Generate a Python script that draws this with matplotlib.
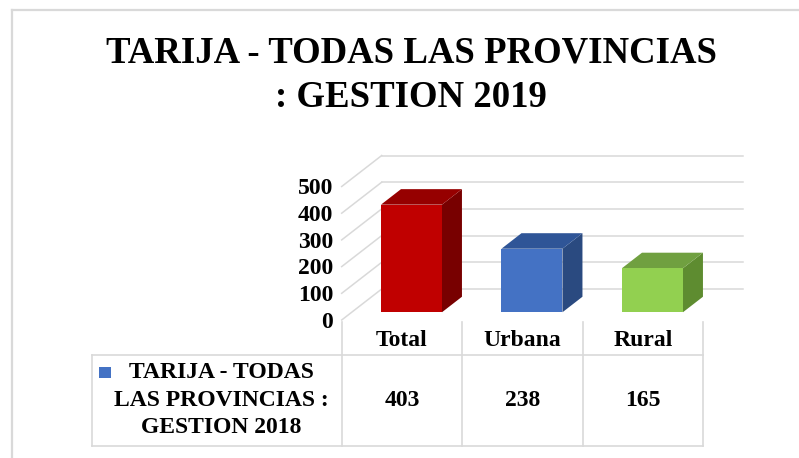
import matplotlib
matplotlib.use("Agg")
import matplotlib.pyplot as plt
from matplotlib.patches import Polygon, Rectangle

# data
categories = ["Total", "Urbana", "Rural"]
values = [403, 238, 165]
y_ticks = [0, 100, 200, 300, 400, 500]
series_label = "TARIJA - TODAS\nLAS PROVINCIAS :\nGESTION 2018"
title = "TARIJA - TODAS LAS PROVINCIAS\n: GESTION 2019"

front_colors = ["#C00000", "#4472C4", "#92D050"]
top_colors = ["#960000", "#2F5597", "#70A040"]
side_colors = ["#780000", "#2A4A80", "#5E8C30"]
grid_color = "#D9D9D9"

plt.rcParams["font.family"] = ["Liberation Serif", "DejaVu Serif"]
plt.rcParams["font.weight"] = "bold"

W, H = 799, 458
fig = plt.figure(figsize=(W / 100, H / 100), dpi=100)

# plot geometry (pixels)
origin_x, origin_y = 341.7, 320.0
col_w = 120.5
px_per_unit = 0.267
depth_px = (40.0, 31.0)

ax = fig.add_axes([0, 0, 1, 1])
ax.set_xlim(-origin_x / col_w, (W - origin_x) / col_w)
ax.set_ylim((origin_y - H) / px_per_unit, origin_y / px_per_unit)
ax.axis("off")

dx = depth_px[0] / col_w
dy = depth_px[1] / px_per_unit
n = len(categories)

# back wall gridlines and left wall diagonals
for v in y_ticks:
    ax.plot([dx, n + dx], [v + dy, v + dy], color=grid_color, lw=1.1, zorder=1)
    ax.plot([0, dx], [v, v + dy], color=grid_color, lw=1.1, zorder=1)
    ax.text(-0.07, v - 8, str(v), ha="right", va="center", fontsize=17,
            fontweight="bold")

# 3D bars
bar_w = 0.506
for i, v in enumerate(values):
    x0 = i + 0.243 + dx / 4
    y0 = dy / 4
    hx, hy = dx / 2, dy / 2
    side = [(x0 + bar_w, y0), (x0 + bar_w + hx, y0 + hy),
            (x0 + bar_w + hx, y0 + v + hy), (x0 + bar_w, y0 + v)]
    top = [(x0, y0 + v), (x0 + bar_w, y0 + v),
           (x0 + bar_w + hx, y0 + v + hy), (x0 + hx, y0 + v + hy)]
    ax.add_patch(Polygon(side, closed=True, fc=side_colors[i], ec="none", zorder=3))
    ax.add_patch(Polygon(top, closed=True, fc=top_colors[i], ec="none", zorder=3))
    ax.add_patch(Rectangle((x0, y0), bar_w, v, fc=front_colors[i], ec="none", zorder=4))

# overlay in pixel coordinates for frame, title and data table
ov = fig.add_axes([0, 0, 1, 1])
ov.set_xlim(0, W)
ov.set_ylim(H, 0)
ov.axis("off")
ov.patch.set_alpha(0)

ov.plot([12, W], [10, 10], color=grid_color, lw=1.6)
ov.plot([12, 12], [10, H], color=grid_color, lw=1.6)

ov.text(411, 75, title, ha="center", va="center", fontsize=26.5,
        fontweight="bold", linespacing=1.35)

table_left = 91.7
head_top, row_top, row_bot = 322, 355, 446
col_edges = [origin_x + col_w * i for i in range(n + 1)]
for x in col_edges:
    ov.plot([x, x], [head_top, row_bot], color=grid_color, lw=1.2)
ov.plot([table_left, table_left], [row_top, row_bot], color=grid_color, lw=1.2)
for y in (row_top, row_bot):
    ov.plot([table_left, col_edges[-1]], [y, y], color=grid_color, lw=1.2)

for i, (cat, v) in enumerate(zip(categories, values)):
    cx = origin_x + col_w * (i + 0.5)
    ov.text(cx, 341, cat, ha="center", va="center", fontsize=17, fontweight="bold")
    ov.text(cx, 400, str(v), ha="center", va="center", fontsize=17, fontweight="bold")

ov.add_patch(Rectangle((99, 367), 12, 11, fc=front_colors[1], ec="none"))
ov.text(221, 400, series_label, ha="center", va="center", fontsize=17,
        fontweight="bold", linespacing=1.4, multialignment="center")

fig.savefig("out.png", dpi=100)
plt.close(fig)
